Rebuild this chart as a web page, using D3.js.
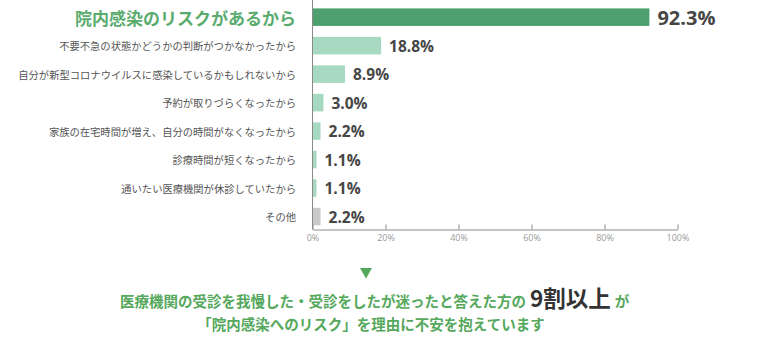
<!DOCTYPE html>
<html><head><meta charset="utf-8">
<script src="https://cdn.jsdelivr.net/npm/d3@7/dist/d3.min.js"></script>
<style>
html,body{margin:0;padding:0;background:#fff;}
svg{display:block;font-family:"Noto Sans CJK JP","Noto Sans",sans-serif;}
</style></head>
<body><svg id="c" width="768" height="340"></svg>
<script>
const categories = [
  "院内感染のリスクがあるから",
  "不要不急の状態かどうかの判断がつかなかったから",
  "自分が新型コロナウイルスに感染しているかもしれないから",
  "予約が取りづらくなったから",
  "家族の在宅時間が増え、自分の時間がなくなったから",
  "診療時間が短くなったから",
  "通いたい医療機関が休診していたから",
  "その他"
];
const values = [92.3, 18.8, 8.9, 3.0, 2.2, 1.1, 1.1, 2.2];
const tickValues = [0, 20, 40, 60, 80, 100];
const footerLine1 = "医療機関の受診を我慢した・受診をしたが迷ったと答えた方の";
const footerEmph = "9割以上";
const footerTail = "が";
const footerLine2 = "「院内感染へのリスク」を理由に不安を抱えています";

const svg = d3.select("#c");
const x = d3.scaleLinear().domain([0, 100]).range([312.5, 677.5]);
const y = d3.scaleBand().domain(categories).range([3, 230.7]).paddingInner(0.385).paddingOuter(0.19);
const axisY = 229.5;

const colorOf = (d, i) => i === 0 ? "#4d9f6d" : (d === "その他" ? "#c8c8c8" : "#a7d9c0");

// bars
svg.append("g").selectAll("rect").data(categories).join("rect")
  .attr("x", x(0)).attr("y", d => y(d))
  .attr("width", (d, i) => x(values[i]) - x(0))
  .attr("height", y.bandwidth())
  .attr("fill", colorOf);

// x axis
const xa = svg.append("g").attr("transform", `translate(0,${axisY})`)
  .call(d3.axisBottom(x).tickValues(tickValues).tickFormat(d => d + "%").tickSizeInner(-5).tickSizeOuter(0).tickPadding(5));
xa.select(".domain").attr("stroke", "#8a8a8a");
xa.selectAll(".tick line").attr("stroke", "#8a8a8a");
xa.selectAll(".tick text").attr("fill", "#9a9a9a").attr("font-size", 9)
  .attr("font-family", "'Open Sans','Noto Sans',sans-serif");

// vertical axis line
svg.append("line").attr("x1", x(0)).attr("x2", x(0)).attr("y1", 0).attr("y2", axisY)
  .attr("stroke", "#8a8a8a");

// category labels
svg.append("g").selectAll("text").data(categories).join("text")
  .attr("x", 296).attr("y", d => y(d) + y.bandwidth() / 2)
  .attr("text-anchor", "end").attr("dominant-baseline", "central")
  .attr("font-size", (d, i) => i === 0 ? 17 : 10.3)
  .attr("font-weight", (d, i) => i === 0 ? 700 : 400)
  .attr("fill", (d, i) => i === 0 ? "#5aab6e" : "#555")
  .text(d => d);

// value labels
svg.append("g").selectAll("text").data(categories).join("text")
  .attr("x", (d, i) => x(values[i]) + 8)
  .attr("y", d => y(d) + y.bandwidth() / 2)
  .attr("dominant-baseline", "central")
  .attr("font-size", (d, i) => i === 0 ? 20 : 15.5)
  .attr("font-weight", 700)
  .attr("fill", "#464646")
  .attr("font-family", "'Open Sans','Noto Sans',sans-serif")
  .text((d, i) => values[i].toFixed(1) + "%");

// triangle
svg.append("path").attr("d", d3.symbol().type(d3.symbolTriangle).size(62)())
  .attr("transform", "translate(366,271.5) rotate(180)").attr("fill", "#55a85c");

// footer
const t1 = svg.append("text").attr("x", 120).attr("y", 307)
  .attr("font-size", 14.5).attr("font-weight", 700).attr("fill", "#55a85c");
t1.append("tspan").text(footerLine1);
t1.append("tspan").attr("dx", 4).attr("font-size", 22.5).attr("fill", "#333").text(footerEmph);
t1.append("tspan").attr("dx", 4).text(footerTail);

svg.append("text").attr("x", 371).attr("y", 330).attr("text-anchor", "middle")
  .attr("font-size", 14.5).attr("font-weight", 700).attr("fill", "#55a85c")
  .text(footerLine2);
</script></body></html>
